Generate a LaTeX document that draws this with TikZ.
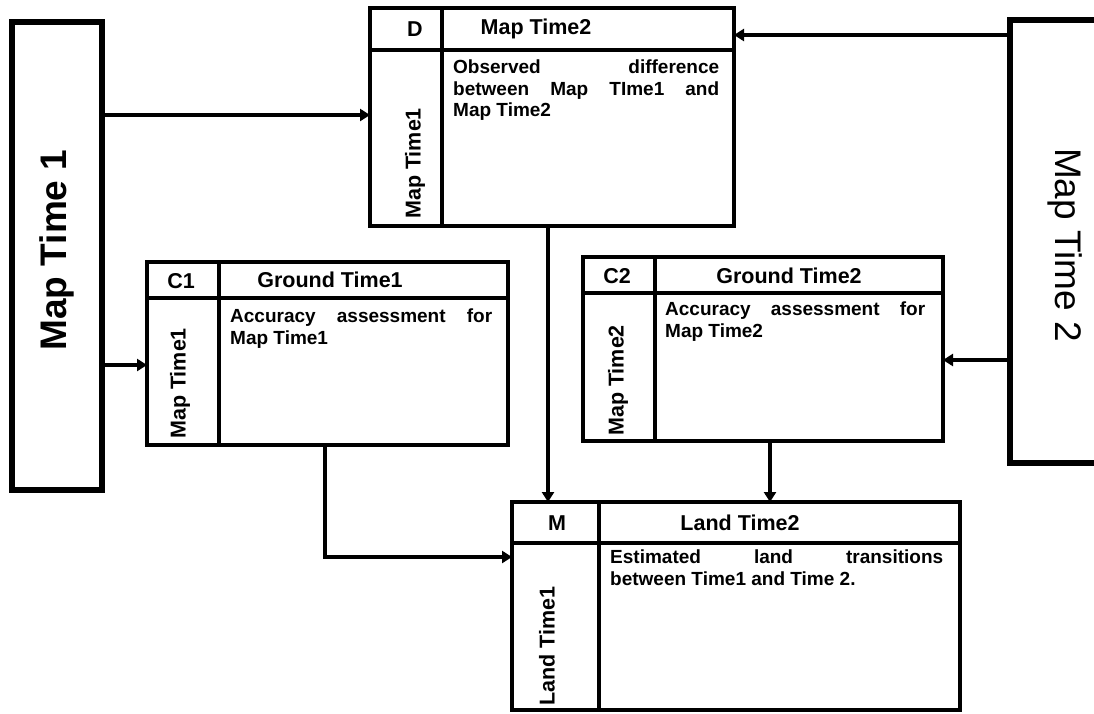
\documentclass[tikz,border=0pt]{standalone}
\usepackage{fontspec}
\setmainfont{Liberation Sans}
\usetikzlibrary{arrows.meta}
\begin{document}
\begin{tikzpicture}[x=1pt,y=-1pt,
  bigbox/.style={draw, line width=6pt, inner sep=0pt, outer sep=0pt},
  tbl/.style={draw, line width=3.2pt, inner sep=0pt, outer sep=0pt},
  rule/.style={line width=3.2pt},
  arr/.style={line width=3.4pt, -{Triangle[length=10pt,width=12pt]}},
  hdr/.style={font=\bfseries\fontsize{21.5}{24}\selectfont, inner sep=0pt},
  side/.style={font=\bfseries\fontsize{21.5}{24}\selectfont, inner sep=0pt, rotate=90, anchor=west},
  body/.style={font=\bfseries\fontsize{19}{21.5}\selectfont, inner sep=0pt, anchor=north west, align=justify},
  big/.style={font=\fontsize{37}{40}\selectfont, inner sep=0pt}
]
\useasboundingbox (0,0) rectangle (1094,713);
\clip (0,0) rectangle (1094,713);

% big side boxes
\node[bigbox, minimum width=90pt, minimum height=468pt] (L1) at (57,256) {};
\node[big, font=\bfseries\fontsize{37}{40}\selectfont, rotate=90] (L1t) at (57,250) {Map Time 1};
\node[bigbox, minimum width=100pt, minimum height=443pt] (R2) at (1060,241.5) {};
\node[big, rotate=-90] (R2t) at (1065,245) {Map Time 2};

% D table
\node[tbl, minimum width=364pt, minimum height=218pt] (D) at (552,117) {};
\draw[rule] (370,50) -- (734,50);
\draw[rule] (442,8) -- (442,226);
\node[hdr] (Dh) at (415,29) {D};
\node[hdr] (Dt) at (536,29) {Map Time2};
\node[side] (Ds) at (415,219) {Map Time1};
\node[body, text width=266pt] (Db) at (453,60) {Observed difference\linebreak between Map TIme1 and\linebreak Map Time2};

% C1 table
\node[tbl, minimum width=361pt, minimum height=183pt] (C1) at (327.5,353.5) {};
\draw[rule] (147,298) -- (508,298);
\draw[rule] (219,262) -- (219,445);
\node[hdr] (C1h) at (181,281) {C1};
\node[hdr] (C1t) at (330,280) {Ground Time1};
\node[side] (C1s) at (180,439) {Map Time1};
\node[body, text width=262pt] (C1b) at (230,309) {Accuracy assessment for\linebreak Map Time1};

% C2 table
\node[tbl, minimum width=360pt, minimum height=184pt] (C2) at (763,349) {};
\draw[rule] (583,293) -- (943,293);
\draw[rule] (655,257) -- (655,441);
\node[hdr] (C2h) at (617,276) {C2};
\node[hdr] (C2t) at (789,276) {Ground Time2};
\node[side] (C2s) at (618,436) {Map Time2};
\node[body, text width=260pt] (C2b) at (665,302) {Accuracy assessment for\linebreak Map Time2};

% M table
\node[tbl, minimum width=448pt, minimum height=208pt] (M) at (736,606) {};
\draw[rule] (512,543) -- (960,543);
\draw[rule] (599,502) -- (599,710);
\node[hdr] (Mh) at (557,523) {M};
\node[hdr] (Mt) at (740,523) {Land Time2};
\node[side] (Ms) at (547,706) {Land Time1};
\node[body, text width=333pt] (Mb) at (610,550) {Estimated land transitions\linebreak between Time1 and Time 2.};

% connectors
\draw[arr] (L1.east |- {(0,115)}) -- (D.west |- {(0,115)});
\draw[arr] (R2.west |- {(0,35)}) -- (D.east |- {(0,35)});
\draw[arr] (L1.east |- {(0,365)}) -- (C1.west |- {(0,365)});
\draw[arr] (R2.west |- {(0,360)}) -- (C2.east |- {(0,360)});
\draw[arr] (D.south -| {(548,0)}) -- (M.north -| {(548,0)});
\draw[arr] (C2.south -| {(770,0)}) -- (M.north -| {(770,0)});
\coordinate (bend) at (325,557);
\draw[arr] (C1.south -| bend) -- (bend) -- (M.west |- bend);
\end{tikzpicture}
\end{document}
